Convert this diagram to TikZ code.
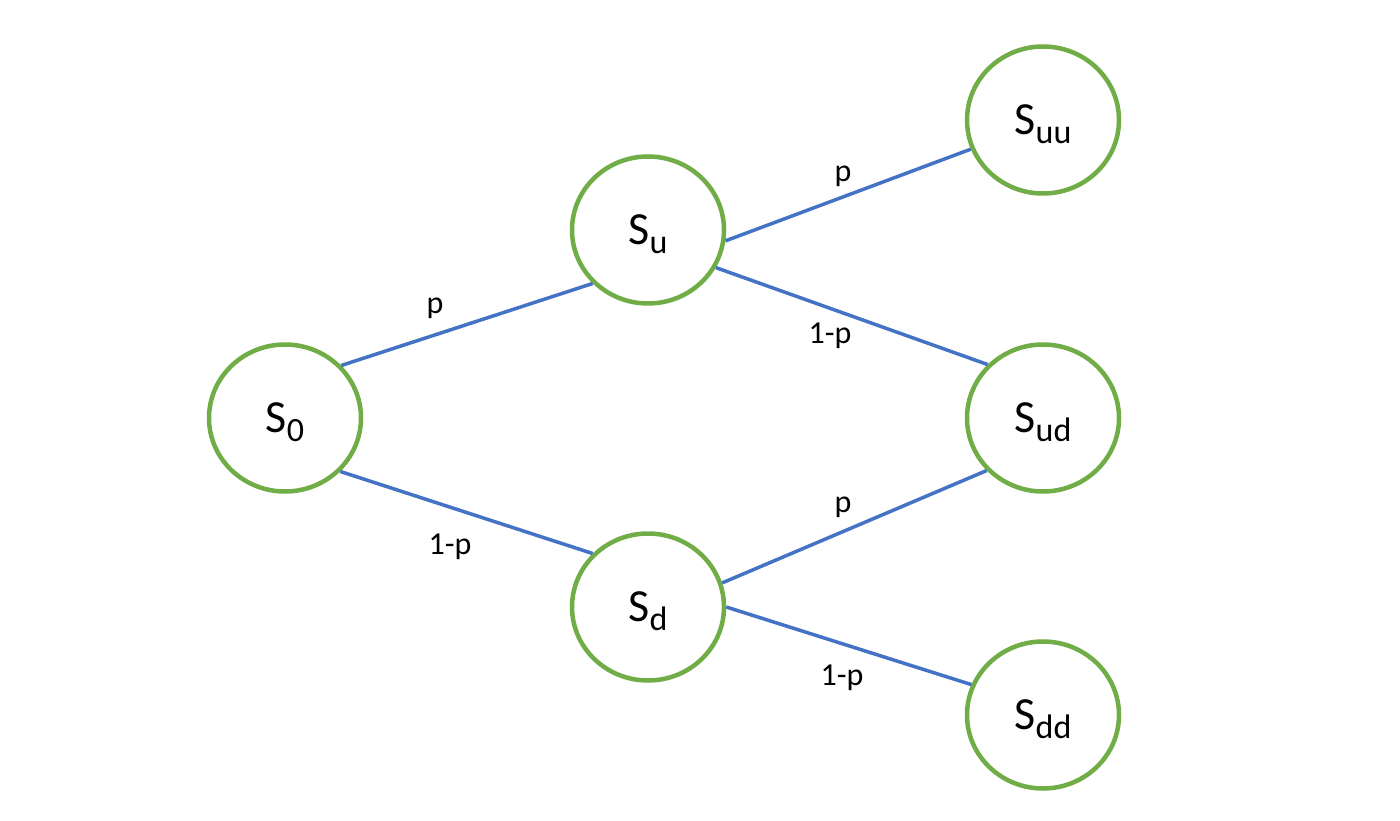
\documentclass[tikz,border=0pt]{standalone}
\usepackage{fontspec}
\setmainfont{Carlito}
\usetikzlibrary{shapes.geometric}
\newcommand{\stsub}[1]{S\raisebox{-9pt}[\height][0pt]{\fontsize{34}{40}\selectfont #1}}
\tikzset{
  state/.style={ellipse, draw=stgreen, line width=4.5pt, minimum width=152pt, minimum height=147pt, inner sep=0pt, font=\fontsize{46}{54}\selectfont},
  conn/.style={draw=stblue, line width=3.5pt},
  prob/.style={anchor=base, inner sep=0pt, font=\fontsize{32}{38}\selectfont}
}
\definecolor{stgreen}{RGB}{112,173,71}
\definecolor{stblue}{RGB}{68,114,196}
\begin{document}
\begin{tikzpicture}[x=1pt,y=-1pt]
\useasboundingbox[fill=white] (0,0) rectangle (1400,821);
\node[state] (s0) at (285,418) {\stsub{0}};
\node[state] (su) at (648,230) {\stsub{u}};
\node[state] (sd) at (648,607) {\stsub{d}};
\node[state] (suu) at (1043,120) {\stsub{uu}};
\node[state] (sud) at (1043,418) {\stsub{ud}};
\node[state] (sdd) at (1043,715) {\stsub{dd}};
\draw[conn] (s0.43) -- (su.224);
\draw[conn] (s0.316) -- (sd.136);
\draw[conn] (su.352) -- (suu.202);
\draw[conn] (su.331) -- (sud.136);
\draw[conn] (sd.18) -- (sud.223);
\draw[conn] (sd.0) -- (sdd.157);
\node[prob] (l1) at (435,313) {p};
\node[prob] (l2) at (450,554) {1-p};
\node[prob] (l3) at (843,182) {p};
\node[prob] (l4) at (830,343) {1-p};
\node[prob] (l5) at (843,512) {p};
\node[prob] (l6) at (842,685) {1-p};
\end{tikzpicture}
\end{document}
